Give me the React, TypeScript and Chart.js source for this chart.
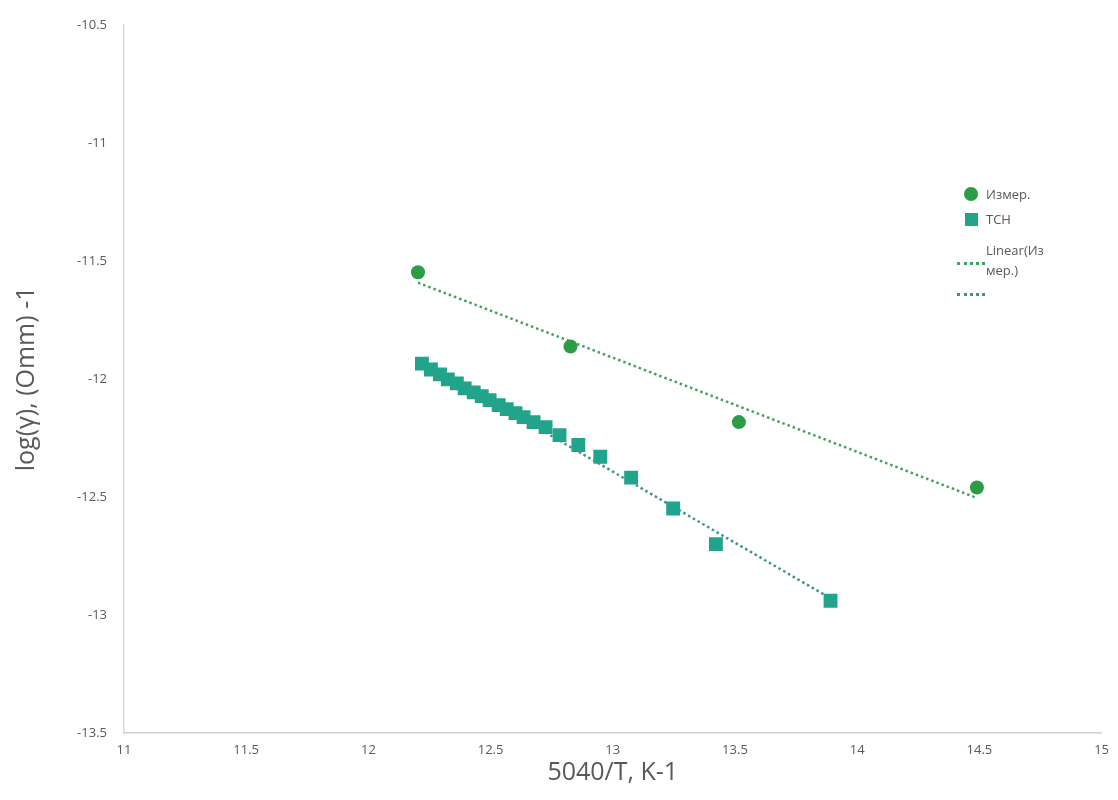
import React, { useEffect, useRef } from "react";
import { Chart, registerables } from "chart.js";

Chart.register(...registerables);

// Measured points (Измер.)
const measX = [12.203, 12.827, 13.516, 14.49];
const measY = [-11.548, -11.863, -12.183, -12.46];

// Calculated points (TCH)
const tchX = [
  12.219, 12.256, 12.293, 12.325, 12.362, 12.394, 12.431, 12.464, 12.496, 12.533, 12.566,
  12.602, 12.635, 12.676, 12.725, 12.782, 12.859, 12.949, 13.075, 13.247, 13.422, 13.891,
];
const tchY = [
  -11.935, -11.96, -11.981, -12.002, -12.019, -12.04, -12.057, -12.073, -12.09, -12.111, -12.128,
  -12.145, -12.162, -12.183, -12.204, -12.238, -12.28, -12.33, -12.418, -12.549, -12.7, -12.94,
];

const xTicks = [11, 11.5, 12, 12.5, 13, 13.5, 14, 14.5, 15];
const yTicks = [-10.5, -11, -11.5, -12, -12.5, -13, -13.5];

const seriesNames = ["Измер.", "TCH", "Linear(Измер.)", ""];
const xTitle = "5040/T, K-1";
const yTitle = "log(γ), (Omm) -1";

const measColor = "#2b9e45";
const tchColor = "#22a38b";
const measTrendColor = "#47a05c";
const tchTrendColor = "#3e9484";
const textColor = "#595959";

// Linear trend line (least squares) over the data extent, as a spreadsheet trendline
function linFit(xs: number[], ys: number[]) {
  const n = xs.length;
  const mx = xs.reduce((a, b) => a + b, 0) / n;
  const my = ys.reduce((a, b) => a + b, 0) / n;
  let sxy = 0;
  let sxx = 0;
  for (let i = 0; i < n; i++) {
    sxy += (xs[i] - mx) * (ys[i] - my);
    sxx += (xs[i] - mx) * (xs[i] - mx);
  }
  const k = sxy / sxx;
  const b = my - k * mx;
  const x0 = Math.min(...xs);
  const x1 = Math.max(...xs);
  return [
    { x: x0, y: k * x0 + b },
    { x: x1, y: k * x1 + b },
  ];
}

export default function App() {
  const ref = useRef<HTMLCanvasElement | null>(null);

  useEffect(() => {
    if (!ref.current) return;
    const chart = new Chart(ref.current, {
      type: "scatter",
      data: {
        datasets: [
          {
            label: seriesNames[2],
            type: "line",
            data: linFit(measX, measY),
            borderColor: measTrendColor,
            borderWidth: 2.5,
            borderDash: [2.5, 3],
            pointRadius: 0,
            fill: false,
            order: 3,
          } as any,
          {
            label: seriesNames[3],
            type: "line",
            data: linFit(tchX, tchY),
            borderColor: tchTrendColor,
            borderWidth: 2.5,
            borderDash: [2.5, 3],
            pointRadius: 0,
            fill: false,
            order: 4,
          } as any,
          {
            label: seriesNames[0],
            data: measX.map((x, i) => ({ x, y: measY[i] })),
            backgroundColor: measColor,
            borderColor: measColor,
            pointStyle: "circle",
            pointRadius: 7,
            borderWidth: 0,
            order: 1,
          },
          {
            label: seriesNames[1],
            data: tchX.map((x, i) => ({ x, y: tchY[i] })),
            backgroundColor: tchColor,
            borderColor: tchColor,
            pointStyle: "rect",
            pointRadius: 9.8,
            borderWidth: 0,
            order: 2,
          },
        ],
      },
      options: {
        animation: false,
        responsive: false,
        layout: { padding: { top: 20, right: 13, left: 0, bottom: 0 } },
        plugins: {
          legend: { display: false },
          tooltip: { enabled: false },
        },
        scales: {
          x: {
            type: "linear",
            min: 11,
            max: 15,
            afterBuildTicks: (s: any) => {
              s.ticks = xTicks.map((v) => ({ value: v }));
            },
            afterFit: (s: any) => {
              s.height = 67;
            },
            grid: { display: false, drawTicks: false },
            border: { display: true, color: "#d0d0d0", width: 1.5 },
            ticks: {
              padding: 9,
              color: textColor,
              font: { family: "Open Sans", size: 13 },
              callback: (v: any) => String(v),
              maxRotation: 0,
            },
            title: {
              display: true,
              text: xTitle,
              color: textColor,
              font: { family: "Open Sans", size: 25 },
              padding: { top: 0, bottom: 12 },
            },
          },
          y: {
            type: "linear",
            min: -13.5,
            max: -10.5,
            afterBuildTicks: (s: any) => {
              s.ticks = yTicks.map((v) => ({ value: v }));
            },
            afterFit: (s: any) => {
              s.width = 124;
            },
            grid: { display: false, drawTicks: false },
            border: { display: true, color: "#d9d9d9", width: 1.5 },
            ticks: {
              padding: 17,
              color: textColor,
              font: { family: "Open Sans", size: 13 },
              callback: (v: any) => String(v),
            },
            title: {
              display: true,
              text: yTitle,
              color: textColor,
              font: { family: "Open Sans", size: 25 },
              padding: { top: 12, bottom: 0 },
            },
          },
        },
      },
    });
    return () => chart.destroy();
  }, []);

  const legendText: React.CSSProperties = {
    position: "absolute",
    left: 986,
    fontFamily: "Open Sans",
    fontSize: 13,
    color: textColor,
    lineHeight: "20px",
    whiteSpace: "nowrap",
  };
  const dotted = (top: number, color: string): React.CSSProperties => ({
    position: "absolute",
    left: 957,
    top,
    width: 28,
    height: 0,
    borderTop: `3px dotted ${color}`,
  });

  return (
    <div style={{ position: "absolute", left: 0, top: 0, width: 1118, height: 800, background: "#fff" }}>
      <canvas ref={ref} width={1118} height={800} style={{ width: 1118, height: 800, display: "block" }} />
      <div
        style={{
          position: "absolute",
          left: 964,
          top: 187,
          width: 14,
          height: 14,
          borderRadius: 7,
          background: measColor,
        }}
      />
      <div style={{ ...legendText, top: 184 }}>{seriesNames[0]}</div>
      <div
        style={{
          position: "absolute",
          left: 965,
          top: 213,
          width: 13,
          height: 13,
          background: tchColor,
        }}
      />
      <div style={{ ...legendText, top: 209 }}>{seriesNames[1]}</div>
      <div style={{ ...legendText, top: 240 }}>
        {seriesNames[2].slice(0, 9)}
        <br />
        {seriesNames[2].slice(9)}
      </div>
      <div style={dotted(262, measTrendColor)} />
      <div style={dotted(293, tchTrendColor)} />
    </div>
  );
}
